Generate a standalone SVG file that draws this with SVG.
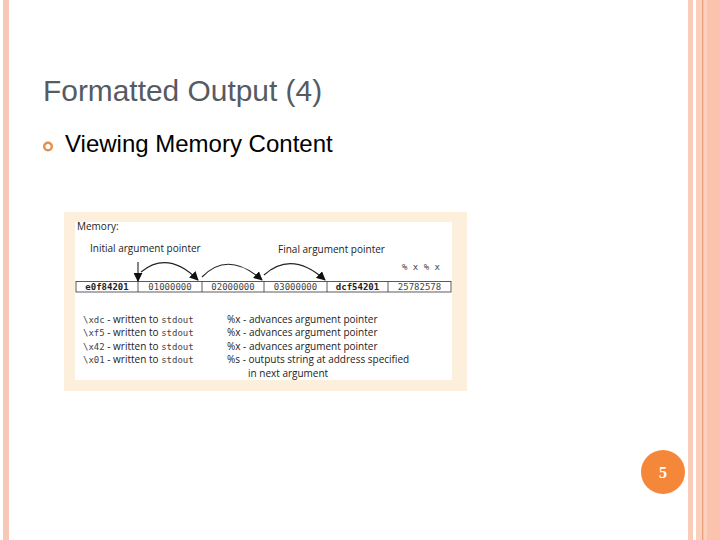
<svg xmlns="http://www.w3.org/2000/svg" width="720" height="540" viewBox="0 0 720 540">
<style>
.t{font-family:"Open Sans","DejaVu Sans",sans-serif;font-size:10px;fill:#222}
.m{font-family:"DejaVu Sans Mono","Liberation Mono",monospace;font-size:9px;fill:#444}
.mb{font-family:"DejaVu Sans Mono","Liberation Mono",monospace;font-size:9px;font-weight:bold;fill:#222}
.c{text-anchor:middle}
.arc{fill:none;stroke:#222;stroke-width:1.1}
</style>
<defs>
<marker id="ah" viewBox="0 0 10 10" refX="9" refY="5" markerWidth="9" markerHeight="9" orient="auto" markerUnits="userSpaceOnUse">
<path d="M0,0 L10,5 L0,10 z" fill="#111"/>
</marker>
</defs>
<rect width="720" height="540" fill="#fff"/>
<g id="border">
<rect x="3" y="0" width="6" height="540" fill="#f8c8b6"/>
<rect x="688" y="0" width="5" height="540" fill="#f9cbb9"/>
<rect x="696" y="0" width="11" height="540" fill="#fbd0bc"/>
<rect x="702" y="0" width="1.3" height="540" fill="#e9a07c"/>
<rect x="707" y="0" width="13" height="540" fill="#fbc3ae"/>
</g>
<g id="title">
<text x="43" y="101" font-family="Liberation Sans,Arial,sans-serif" font-size="29.9" fill="#555b63">Formatted Output (4)</text>
</g>
<g id="bullet">
<circle cx="48" cy="146.5" r="3.8" fill="none" stroke="#e58e4c" stroke-width="2.4"/>
<text x="65" y="152" font-family="Liberation Sans,Arial,sans-serif" font-size="24" fill="#000">Viewing Memory Content</text>
</g>
<g id="memory-figure">
<rect x="64" y="212" width="403" height="179" fill="#fcf0dd"/>
<rect x="75" y="222" width="377" height="158" fill="#fff"/>
<text class="t" x="77" y="230" font-size="9.5">Memory:</text>
<text class="t" x="90" y="252">Initial argument pointer</text>
<text class="t" x="278" y="253">Final argument pointer</text>
<text class="m" x="402" y="270" font-size="9" xml:space="preserve">% x % x</text>
<g id="row">
<rect x="76" y="281.5" width="375" height="10.5" fill="none" stroke="#333" stroke-width="0.8"/>
<path d="M138,281.5V292 M202,281.5V292 M264,281.5V292 M327,281.5V292 M388,281.5V292" stroke="#333" stroke-width="0.8"/>
<text class="mb c" x="107" y="290">e0f84201</text>
<text class="m c" x="170" y="290">01000000</text>
<text class="m c" x="233" y="290">02000000</text>
<text class="m c" x="295.5" y="290">03000000</text>
<text class="mb c" x="357.5" y="290">dcf54201</text>
<text class="m c" x="419.5" y="290">25782578</text>
</g>
<g id="connectors">
<line class="arc" x1="138" y1="262" x2="138" y2="281" marker-end="url(#ah)"/>
<path class="arc" d="M141,272 Q168,250 198,280" marker-end="url(#ah)"/>
<path class="arc" d="M202,277 Q228,250 262,280" marker-end="url(#ah)"/>
<path class="arc" d="M264,275 Q292,250 325,280" marker-end="url(#ah)"/>
</g>
<g id="notes" class="t">
<text x="83" y="323"><tspan class="m">\xdc</tspan> - written to <tspan class="m">stdout</tspan></text>
<text x="83" y="336"><tspan class="m">\xf5</tspan> - written to <tspan class="m">stdout</tspan></text>
<text x="83" y="349.5"><tspan class="m">\x42</tspan> - written to <tspan class="m">stdout</tspan></text>
<text x="83" y="363"><tspan class="m">\x01</tspan> - written to <tspan class="m">stdout</tspan></text>
<text x="227" y="323">%x - advances argument pointer</text>
<text x="227" y="336">%x - advances argument pointer</text>
<text x="227" y="349.5">%x - advances argument pointer</text>
<text x="227" y="363">%s - outputs string at address specified</text>
<text x="248" y="377">in next argument</text>
</g>
</g>
<g id="page-number">
<circle cx="663" cy="472" r="22" fill="#f5873a"/>
<text x="663" y="478" text-anchor="middle" font-family="Liberation Serif,serif" font-size="16" font-weight="bold" fill="#fff">5</text>
</g>
</svg>
